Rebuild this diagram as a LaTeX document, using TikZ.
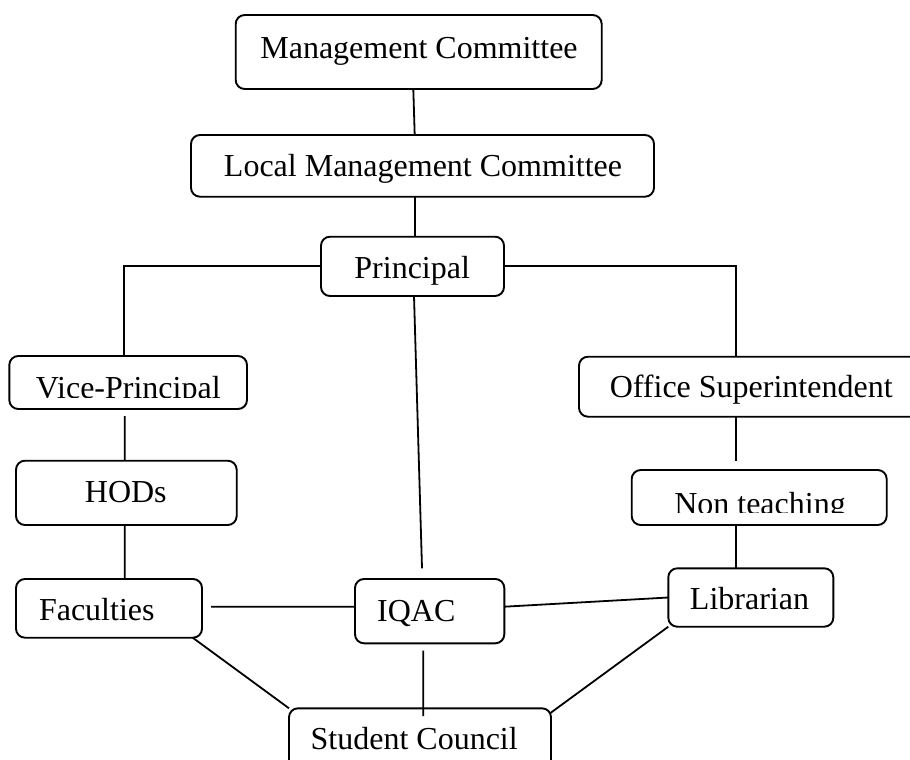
\documentclass[tikz,border=0pt]{standalone}
\usepackage{fontspec}
\setmainfont{Liberation Serif}
\begin{document}
\begin{tikzpicture}[x=1pt,y=-1pt,
  box/.style={draw,line width=1.9pt,rounded corners=9pt,inner sep=0pt,outer sep=0pt},
  txt/.style={inner sep=0pt,outer sep=0pt,font=\fontsize{32}{38}\selectfont},
  link/.style={line width=1.8pt}]
\useasboundingbox (0,0) rectangle (910,760);
\clip (0,0) rectangle (910,760);
% boxes
\node[box,minimum width=366pt,minimum height=74pt] (mc) at (418.7,52) {};
\node[box,minimum width=463pt,minimum height=61.7pt] (lmc) at (422.5,165.85) {};
\node[box,minimum width=183pt,minimum height=59.3pt] (pr) at (412.5,266.35) {};
\node[box,minimum width=237.7pt,minimum height=53pt] (vp) at (128.15,382.5) {};
\node[box,minimum width=351pt,minimum height=60pt] (os) at (754.5,386.7) {};
\node[box,minimum width=220.7pt,minimum height=64.3pt] (hods) at (126.35,492.85) {};
\node[box,minimum width=255pt,minimum height=55pt] (nt) at (759.2,497.5) {};
\node[box,minimum width=186pt,minimum height=58.7pt] (fac) at (109,608.35) {};
\node[box,minimum width=149.3pt,minimum height=64.3pt] (iqac) at (429.65,611.15) {};
\node[box,minimum width=165pt,minimum height=58.4pt] (lib) at (750.8,597.5) {};
\node[box,minimum width=262pt,minimum height=81.7pt] (sc) at (420,749.15) {};
% texts
\node[txt,anchor=base] (mct) at (419,59) {Management Committee};
\node[txt,anchor=base] (lmct) at (423,176) {Local Management Committee};
\node[txt,anchor=base] (prt) at (412.2,278.3) {Principal};
\begin{scope}
  \clip (0,0) rectangle (910,397);
  \node[txt,anchor=base] (vpt) at (128.3,398.5) {Vice-Principal};
\end{scope}
\node[txt,anchor=base] (ost) at (751.2,397.3) {Office Superintendent};
\node[txt,anchor=base] (hodst) at (125.8,502.7) {HODs};
\begin{scope}
  \clip (0,0) rectangle (910,512.7);
  \node[txt,anchor=base] (ntt) at (760,514) {Non teaching};
\end{scope}
\node[txt,anchor=base west] (fact) at (39,620) {Faculties};
\node[txt,anchor=base] (iqact) at (416.3,621.7) {IQAC};
\node[txt,anchor=base] (libt) at (749.5,609.3) {Librarian};
\node[txt,anchor=base] (sct) at (414.2,749.3) {Student Council};
% connectors
\draw[link] ([xshift=-5.4pt]mc.south) -- ([xshift=-7.8pt]lmc.north);
\draw[link] ([xshift=-7.5pt]lmc.south) -- ([xshift=2.5pt]pr.north);
\draw[link] (pr.west) -| ([xshift=-4pt]vp.north);
\draw[link] (pr.east) -| ([xshift=-18.8pt]os.north);
\draw[link] ([xshift=-3.45pt,yshift=-7pt]vp.south) -- ([xshift=-1.65pt]hods.north);
\draw[link] ([xshift=-1.65pt]hods.south) -- ([xshift=15.7pt]fac.north);
\draw[link] ([xshift=9pt,yshift=1.65pt]fac.east) -- ([yshift=4.45pt]iqac.west);
\draw[link] ([xshift=-9.3pt]fac.south east) -- (sc.north west);
\draw[link] ([xshift=1.5pt]pr.south) -- ([xshift=-7.65pt,yshift=10.7pt]iqac.north);
\draw[link] ([xshift=-6.35pt,yshift=-7.4pt]iqac.south) -- ([xshift=3.3pt,yshift=-7.7pt]sc.north);
\draw[link] ([yshift=4.45pt]iqac.east) -- (lib.west);
\draw[link] (lib.south west) -- ([xshift=-1pt,yshift=-5pt]sc.north east);
\draw[link] ([xshift=-18.8pt,yshift=-0.3pt]os.south) -- ([xshift=-23.5pt,yshift=9.3pt]nt.north);
\draw[link] ([xshift=-23.2pt]nt.south) -- ([xshift=-14.8pt]lib.north);
\end{tikzpicture}
\end{document}
